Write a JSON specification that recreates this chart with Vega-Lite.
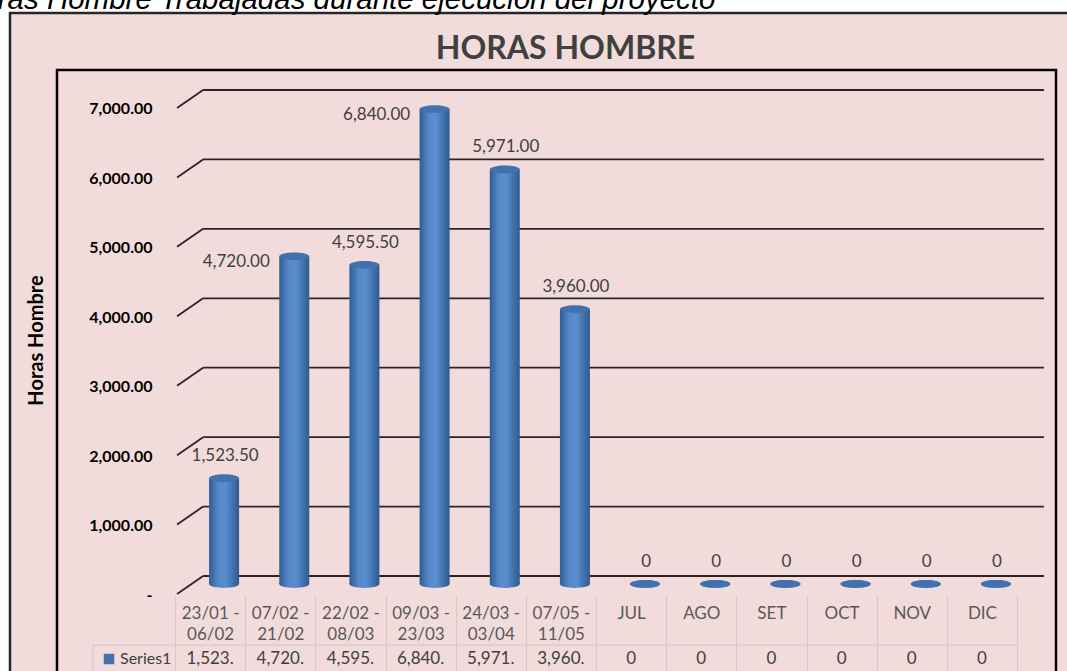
{
  "$schema": "https://vega.github.io/schema/vega-lite/v6.json",
  "width": 999,
  "height": 601,
  "autosize": {"type": "none"},
  "padding": {"left": 57, "top": 70, "right": 11, "bottom": 0},
  "background": "white",
  "config": {"view": {"stroke": null, "fill": null}, "axis": {"grid": false}, "font": "Lato"},
  "title": {"text": "Horas Hombre Trabajadas durante ejecución del proyecto", "anchor": "start", "frame": "group", "dx": -97, "offset": -27, "baseline": "alphabetic", "font": "Liberation Sans", "fontStyle": "italic", "fontWeight": "normal", "fontSize": 29.5, "color": "#000000"},
  "datasets": {
    "horas": [
      {"periodo": "23/01 - 06/02", "horas": 1523.5, "serie": "Series1"},
      {"periodo": "07/02 - 21/02", "horas": 4720, "serie": "Series1"},
      {"periodo": "22/02 - 08/03", "horas": 4595.5, "serie": "Series1"},
      {"periodo": "09/03 - 23/03", "horas": 6840, "serie": "Series1"},
      {"periodo": "24/03 - 03/04", "horas": 5971, "serie": "Series1"},
      {"periodo": "07/05 - 11/05", "horas": 3960, "serie": "Series1"},
      {"periodo": "JUL", "horas": 0, "serie": "Series1"},
      {"periodo": "AGO", "horas": 0, "serie": "Series1"},
      {"periodo": "SET", "horas": 0, "serie": "Series1"},
      {"periodo": "OCT", "horas": 0, "serie": "Series1"},
      {"periodo": "NOV", "horas": 0, "serie": "Series1"},
      {"periodo": "DIC", "horas": 0, "serie": "Series1"}
    ],
    "grid": [{"v": 0}, {"v": 1000}, {"v": 2000}, {"v": 3000}, {"v": 4000}, {"v": 5000}, {"v": 6000}, {"v": 7000}],
    "one": [{}]
  },
  "data": {"name": "horas"},
  "resolve": {"axis": {"x": "independent"}},
  "layer": [
    {
      "data": {"name": "one"},
      "mark": {"type": "rect", "fill": "#F2DCDB", "stroke": "#262626", "strokeWidth": 2.5, "xOffset": 60, "x2Offset": -47, "yOffset": -57, "y2Offset": 60},
      "encoding": {"x2": {"value": 0}, "y2": {"value": "height"}}
    },
    {
      "data": {"name": "one"},
      "mark": {"type": "rect", "fill": "transparent", "stroke": "#000000", "strokeWidth": 2.5, "y2Offset": 20},
      "encoding": {"y2": {"value": "height"}}
    },
    {
      "data": {"name": "grid"},
      "mark": {"type": "rule", "color": "#262626", "strokeWidth": 1.8, "yOffset": -8, "xOffset": -7, "x2Offset": 62},
      "encoding": {
        "x": {"datum": "23/01 - 06/02", "type": "nominal", "scale": {"domain": ["23/01 - 06/02", "07/02 - 21/02", "22/02 - 08/03", "09/03 - 23/03", "24/03 - 03/04", "07/05 - 11/05", "JUL", "AGO", "SET", "OCT", "NOV", "DIC"], "range": [118, 960], "paddingInner": 0, "paddingOuter": 0}, "axis": null},
        "x2": {"datum": "DIC"},
        "y": {"field": "v", "type": "quantitative", "scale": {"domain": [-1253, 7403], "nice": false, "zero": false}}
      }
    },
    {
      "data": {"name": "grid"},
      "mark": {"type": "rule", "color": "#262626", "strokeWidth": 1.8, "xOffset": -33, "x2Offset": -7, "yOffset": 10, "y2Offset": -8},
      "encoding": {
        "x": {"datum": "23/01 - 06/02", "type": "nominal", "scale": {"domain": ["23/01 - 06/02", "07/02 - 21/02", "22/02 - 08/03", "09/03 - 23/03", "24/03 - 03/04", "07/05 - 11/05", "JUL", "AGO", "SET", "OCT", "NOV", "DIC"], "range": [118, 960], "paddingInner": 0, "paddingOuter": 0}, "axis": null},
        "x2": {"datum": "23/01 - 06/02"},
        "y": {"field": "v", "type": "quantitative", "scale": {"domain": [-1253, 7403], "nice": false, "zero": false}},
        "y2": {"field": "v"}
      }
    },
    {
      "data": {"name": "one"},
      "mark": {"type": "rule", "color": "#D4CACA", "strokeWidth": 1.2, "xOffset": -117, "x2Offset": 35},
      "encoding": {
        "x": {"datum": "23/01 - 06/02", "type": "nominal", "scale": {"domain": ["23/01 - 06/02", "07/02 - 21/02", "22/02 - 08/03", "09/03 - 23/03", "24/03 - 03/04", "07/05 - 11/05", "JUL", "AGO", "SET", "OCT", "NOV", "DIC"], "range": [118, 960], "paddingInner": 0, "paddingOuter": 0}, "axis": null},
        "x2": {"datum": "DIC"},
        "y": {"datum": -879, "type": "quantitative", "scale": {"domain": [-1253, 7403], "nice": false, "zero": false}}
      }
    },
    {
      "data": {"name": "one"},
      "mark": {"type": "rule", "color": "#D4CACA", "strokeWidth": 1.2, "xOffset": -117},
      "encoding": {
        "x": {"datum": "23/01 - 06/02", "type": "nominal", "scale": {"domain": ["23/01 - 06/02", "07/02 - 21/02", "22/02 - 08/03", "09/03 - 23/03", "24/03 - 03/04", "07/05 - 11/05", "JUL", "AGO", "SET", "OCT", "NOV", "DIC"], "range": [118, 960], "paddingInner": 0, "paddingOuter": 0}, "axis": null},
        "y": {"datum": -879, "type": "quantitative", "scale": {"domain": [-1253, 7403], "nice": false, "zero": false}},
        "y2": {"datum": -1253}
      }
    },
    {
      "mark": {"type": "bar", "width": 30, "xOffset": 14, "fill": {"gradient": "linear", "x1": 0, "y1": 0, "x2": 1, "y2": 0, "stops": [{"offset": 0, "color": "#2F5C93"}, {"offset": 0.3, "color": "#5588C8"}, {"offset": 0.55, "color": "#5A8ED0"}, {"offset": 1, "color": "#2E5A8F"}]}},
      "encoding": {
        "x": {"field": "periodo", "type": "nominal", "sort": null, "scale": {"domain": ["23/01 - 06/02", "07/02 - 21/02", "22/02 - 08/03", "09/03 - 23/03", "24/03 - 03/04", "07/05 - 11/05", "JUL", "AGO", "SET", "OCT", "NOV", "DIC"], "range": [118, 960], "paddingInner": 0, "paddingOuter": 0},
          "axis": {"orient": "bottom", "offset": -76, "domain": false, "ticks": true, "tickBand": "extent", "tickSize": 76, "tickColor": "#D4CACA", "tickWidth": 1.2, "labelPadding": -66, "labelBaseline": "top", "labelAlign": "center", "labelAngle": 0, "labelFont": "Lato", "labelFontSize": 17, "labelColor": "#595959", "labelLineHeight": 21, "labelOverlap": false, "labelExpr": "indexof(datum.label, ' - ') > 0 ? [slice(datum.label, 0, indexof(datum.label, ' - ') + 2), slice(datum.label, indexof(datum.label, ' - ') + 3)] : datum.label", "title": null, "zindex": 1}},
        "y": {"field": "horas", "type": "quantitative", "scale": {"domain": [-1253, 7403], "nice": false, "zero": false},
          "axis": {"orient": "left", "offset": -118, "domain": false, "ticks": false, "values": [0, 1000, 2000, 3000, 4000, 5000, 6000, 7000], "labelExpr": "datum.value == 0 ? '-\u00a0\u00a0\u00a0' : format(datum.value, ',.2f')", "labelFont": "Lato", "labelFontWeight": "bold", "labelFontSize": 16, "labelColor": "#000000", "labelPadding": 23, "labelOffset": 11, "labelBaseline": "middle", "labelAlign": "right", "labelOverlap": false, "title": "Horas Hombre", "titleFont": "Lato", "titleFontWeight": "bold", "titleFontSize": 20, "titleColor": "#000000", "titleX": -139, "titleY": 270, "titleAngle": -90, "titleAlign": "center", "titleBaseline": "middle", "zindex": 1}}
      }
    },
    {
      "mark": {"type": "point", "shape": "M-1,0A1,0.26,0,1,0,1,0A1,0.26,0,1,0,-1,0Z", "size": 900, "filled": true, "opacity": 1, "strokeWidth": 0, "xOffset": 14, "fill": {"gradient": "linear", "x1": 0, "y1": 0, "x2": 1, "y2": 0, "stops": [{"offset": 0, "color": "#2F5C93"}, {"offset": 0.3, "color": "#5588C8"}, {"offset": 0.55, "color": "#5A8ED0"}, {"offset": 1, "color": "#2E5A8F"}]}},
      "encoding": {
        "x": {"field": "periodo", "type": "nominal", "sort": null, "scale": {"domain": ["23/01 - 06/02", "07/02 - 21/02", "22/02 - 08/03", "09/03 - 23/03", "24/03 - 03/04", "07/05 - 11/05", "JUL", "AGO", "SET", "OCT", "NOV", "DIC"], "range": [118, 960], "paddingInner": 0, "paddingOuter": 0}, "axis": null},
        "y": {"datum": 0, "type": "quantitative", "scale": {"domain": [-1253, 7403], "nice": false, "zero": false}}
      }
    },
    {
      "mark": {"type": "point", "shape": "M-1,0A1,0.26,0,1,0,1,0A1,0.26,0,1,0,-1,0Z", "size": 900, "filled": true, "opacity": 1, "strokeWidth": 0, "xOffset": 14},
      "encoding": {
        "x": {"field": "periodo", "type": "nominal", "sort": null, "scale": {"domain": ["23/01 - 06/02", "07/02 - 21/02", "22/02 - 08/03", "09/03 - 23/03", "24/03 - 03/04", "07/05 - 11/05", "JUL", "AGO", "SET", "OCT", "NOV", "DIC"], "range": [118, 960], "paddingInner": 0, "paddingOuter": 0}, "axis": null},
        "y": {"field": "horas", "type": "quantitative", "scale": {"domain": [-1253, 7403], "nice": false, "zero": false}},
        "fill": {"field": "serie", "type": "nominal", "scale": {"range": ["#4272AE"]},
          "legend": {"orient": "none", "legendX": 44, "legendY": 581, "title": null, "symbolType": "square", "symbolSize": 110, "symbolStrokeWidth": 0, "symbolOpacity": 1, "labelFont": "Lato", "labelFontSize": 16, "labelColor": "#404040", "labelOffset": 3, "padding": 0}}
      }
    },
    {
      "transform": [{"filter": "datum.periodo != '07/02 - 21/02' && datum.periodo != '09/03 - 23/03'"}],
      "mark": {"type": "text", "font": "Lato", "fontSize": 17, "color": "#404040", "baseline": "middle", "xOffset": 15, "yOffset": -22},
      "encoding": {
        "x": {"field": "periodo", "type": "nominal", "sort": null, "scale": {"domain": ["23/01 - 06/02", "07/02 - 21/02", "22/02 - 08/03", "09/03 - 23/03", "24/03 - 03/04", "07/05 - 11/05", "JUL", "AGO", "SET", "OCT", "NOV", "DIC"], "range": [118, 960], "paddingInner": 0, "paddingOuter": 0}, "axis": null},
        "y": {"field": "horas", "type": "quantitative", "scale": {"domain": [-1253, 7403], "nice": false, "zero": false}},
        "text": {"condition": {"test": "datum.horas == 0", "value": "0"}, "field": "horas", "type": "quantitative", "format": ",.2f"}
      }
    },
    {
      "transform": [{"filter": "datum.periodo == '07/02 - 21/02' || datum.periodo == '09/03 - 23/03'"}],
      "mark": {"type": "text", "font": "Lato", "fontSize": 17, "color": "#404040", "baseline": "middle", "xOffset": -44, "yOffset": 6},
      "encoding": {
        "x": {"field": "periodo", "type": "nominal", "sort": null, "scale": {"domain": ["23/01 - 06/02", "07/02 - 21/02", "22/02 - 08/03", "09/03 - 23/03", "24/03 - 03/04", "07/05 - 11/05", "JUL", "AGO", "SET", "OCT", "NOV", "DIC"], "range": [118, 960], "paddingInner": 0, "paddingOuter": 0}, "axis": null},
        "y": {"field": "horas", "type": "quantitative", "scale": {"domain": [-1253, 7403], "nice": false, "zero": false}},
        "text": {"field": "horas", "type": "quantitative", "format": ",.2f"}
      }
    },
    {
      "mark": {"type": "text", "font": "Lato", "fontSize": 17, "color": "#404040", "baseline": "middle", "limit": 48, "ellipsis": "\u200b"},
      "encoding": {
        "x": {"field": "periodo", "type": "nominal", "sort": null, "scale": {"domain": ["23/01 - 06/02", "07/02 - 21/02", "22/02 - 08/03", "09/03 - 23/03", "24/03 - 03/04", "07/05 - 11/05", "JUL", "AGO", "SET", "OCT", "NOV", "DIC"], "range": [118, 960], "paddingInner": 0, "paddingOuter": 0},
          "axis": {"orient": "top", "labels": false, "ticks": false, "domain": false, "title": "HORAS HOMBRE", "titleFont": "Lato", "titleFontSize": 32, "titleFontWeight": "bold", "titleColor": "#404040", "titleX": 508, "titleY": -12, "titleAlign": "center", "titleBaseline": "alphabetic", "titleAngle": 0, "zindex": 1}},
        "y": {"datum": -1080, "type": "quantitative", "scale": {"domain": [-1253, 7403], "nice": false, "zero": false}},
        "text": {"condition": {"test": "datum.horas == 0", "value": "0"}, "field": "horas", "type": "quantitative", "format": ",.2f"}
      }
    }
  ]
}
